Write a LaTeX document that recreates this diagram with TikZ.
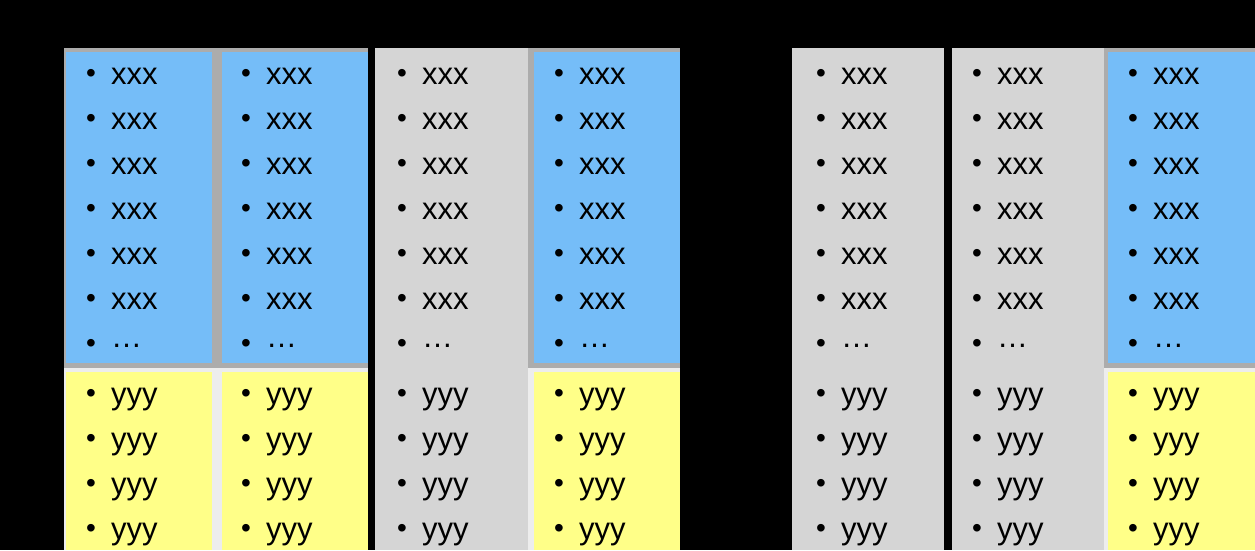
\documentclass[tikz,border=0pt]{standalone}
\usepackage{fontspec}
\setmainfont{Liberation Sans}
\definecolor{cellblue}{HTML}{75BDF8}
\definecolor{cellyellow}{HTML}{FFFF88}
\definecolor{framegray}{HTML}{ACACAC}
\definecolor{colgray}{HTML}{D5D5D5}
\definecolor{framelight}{HTML}{EDEDED}
\newcommand{\rowstep}[0] {45}

\begin{document}
\begin{tikzpicture}[x=1pt,y=-1pt,
    txt/.style={anchor=base west, inner sep=0pt, font=\fontsize{31}{31}\selectfont},
    dotnode/.style={anchor=base, inner sep=0pt, yshift=1.6pt, font=\fontsize{28}{28}\selectfont}]
        \useasboundingbox (0,0) rectangle (1255,550);
        \clip (0,0) rectangle (1255,550);
        \fill[black] (0,0) rectangle (1255,550);

        %left group, columns 1 and 2
        \fill[framegray] (64,48) rectangle (368,368);
        \fill[framelight] (64,368) rectangle (368,550);
        \fill[cellblue] (66,52) rectangle (212,363);
        \fill[cellblue] (222,52) rectangle (368,363);
        \fill[cellyellow] (66,372) rectangle (212,550);
        \fill[cellyellow] (222,372) rectangle (368,550);

        %left group, column 3
        \fill[colgray] (375,48) rectangle (528,550);

        %left group, column 4
        \fill[framegray] (528,48) rectangle (680,368);
        \fill[framelight] (528,368) rectangle (680,550);
        \fill[cellblue] (534,52) rectangle (680,363);
        \fill[cellyellow] (534,372) rectangle (680,550);

        %right group, columns 5 and 6
        \fill[colgray] (792,48) rectangle (944,550);
        \fill[colgray] (952,48) rectangle (1104,550);

        %right group, column 7
        \fill[framegray] (1104,48) rectangle (1255,368);
        \fill[framelight] (1104,368) rectangle (1255,550);
        \fill[cellblue] (1108,52) rectangle (1255,363);
        \fill[cellyellow] (1108,372) rectangle (1255,550);

        %items
        \foreach \cx [count=\c] in {111,266,422,579,841,997,1153} {
            \foreach \r in {0,...,5} {
                \node[dotnode] (xb-\c-\r) at (\cx-20, 84+\r*\rowstep) {\textbullet};
                \node[txt] (x-\c-\r) at (\cx, 84+\r*\rowstep) {xxx};
            }
            \node[dotnode] (xb-\c-6) at (\cx-20, 354) {\textbullet};
            \node[txt] (x-\c-6) at (\cx, 354) {\raisebox{7pt}{…}};
            \foreach \r in {0,...,3} {
                \node[dotnode] (yb-\c-\r) at (\cx-20, 404+\r*\rowstep) {\textbullet};
                \node[txt] (y-\c-\r) at (\cx, 404+\r*\rowstep) {yyy};
            }
        }
\end{tikzpicture}
\end{document}
